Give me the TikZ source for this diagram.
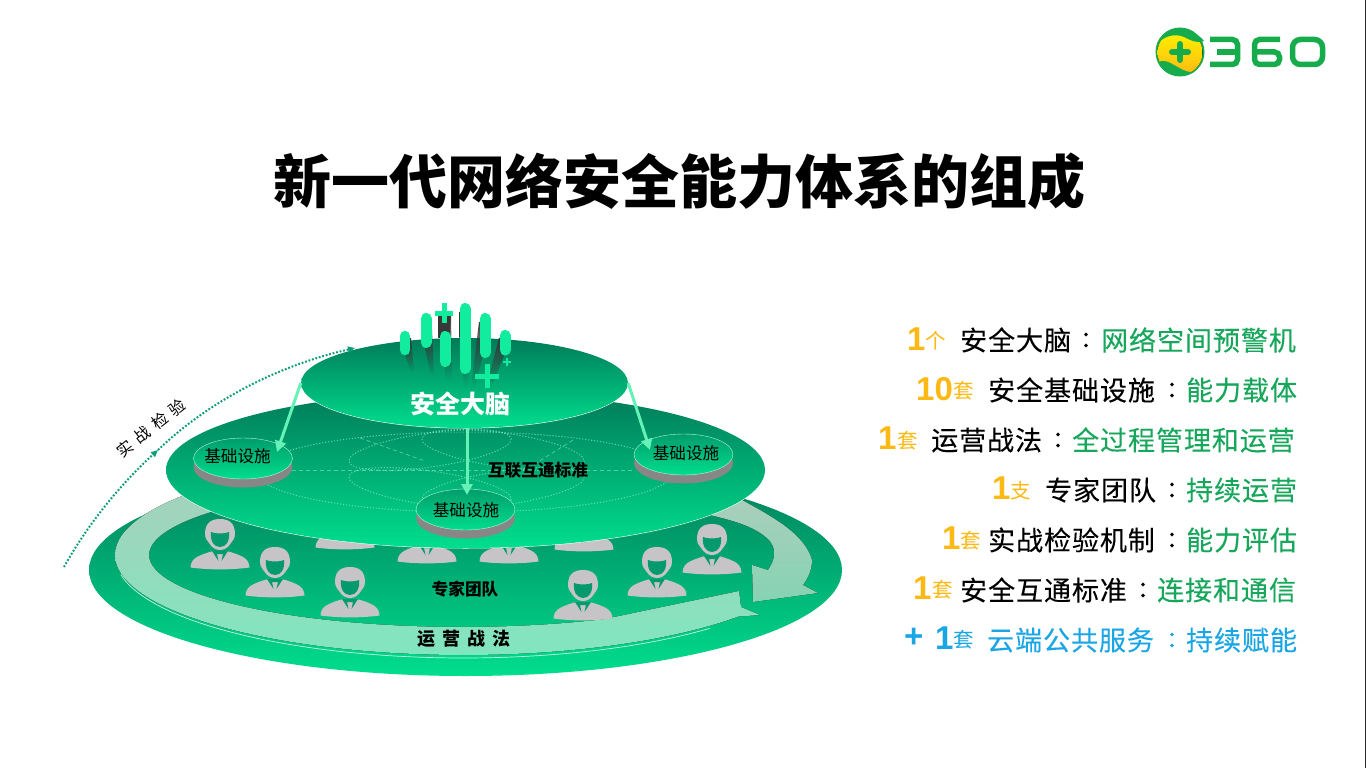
\documentclass[tikz,border=0pt]{standalone}
\usepackage{fontspec}
\usetikzlibrary{shapes.geometric,arrows.meta,calc,fadings}
\setmainfont{Liberation Sans}
\newfontfamily\cjk{Noto Sans CJK SC}
\newfontfamily\cjkls[LetterSpace=3.5,FakeBold=0.15]{Noto Sans CJK SC}
\definecolor{numorange}{HTML}{FDB913}
\definecolor{rowgreen}{HTML}{17A75B}
\definecolor{rowblue}{HTML}{1AA6E4}
\definecolor{discTop}{HTML}{007A58}
\definecolor{discBot}{HTML}{00DE8E}
\definecolor{personc}{HTML}{C6C4C6}
\definecolor{facec}{HTML}{059A6E}
\definecolor{arrowc}{HTML}{66F2B6}
\definecolor{dotc}{HTML}{0A9D78}
\definecolor{barc}{HTML}{12EC9E}
\definecolor{logog}{HTML}{16AC4C}
\definecolor{bandTop}{HTML}{A9CFBC}
\definecolor{bandMid}{HTML}{85D3B2}
\definecolor{bandBot}{HTML}{80E6BF}
\tikzset{
  disc/.style={ellipse,inner sep=0,top color=discTop,bottom color=discBot,draw=none},
  minidisc/.style={ellipse,inner sep=0,minimum width=99pt,minimum height=41pt,top color=#1,bottom color=discBot,draw=white!70!discBot,line width=.4pt},
  minibase/.style={ellipse,inner sep=0,minimum width=99pt,minimum height=41pt,fill=black!47,draw=none},
  link/.style={draw=arrowc,line width=3pt,-{Triangle[length=11pt,width=11pt]}},
  txt/.style={inner sep=0,anchor=west},
  num/.style={txt,font=\fontsize{33}{33}\selectfont\bfseries,text=numorange},
  unitn/.style={txt,font=\cjk\fontsize{20.5}{20.5}\selectfont,text=numorange},
  body/.style={txt,font=\cjkls\fontsize{27}{27}\selectfont,text=#1},
  colon/.style={inner sep=0,anchor=center,font=\cjkls\fontsize{27}{27}\selectfont,text=#1},
  capsule/.style={draw=barc,line cap=round,line width=#1},
  shadowbar/.style={fill=black!78,draw=none,path fading=south},
  discLabel/.style={inner sep=0,font=\cjk\fontsize{16.6}{16.6}\selectfont,text=black},
  boldLabel/.style={inner sep=0,font=\cjk\bfseries\fontsize{16.7}{16.7}\selectfont,text=black},
  ptdot/.style={draw=white!55!discBot,line width=1pt,opacity=.65,dash pattern=on 1.2pt off 1.8pt},
  ptdash/.style={draw=white!55!discBot,line width=.8pt,opacity=.55,dash pattern=on 4pt off 3pt},
  person/.pic={
    \fill[personc] (-29.5,-1.5) .. controls (-29,-10) and (-24,-13) .. (-7,-18) -- (7,-18)
       .. controls (24,-13) and (29,-10) .. (29.5,-1.5) .. controls (12,1) and (-12,1) .. (-29.5,-1.5) -- cycle;
    \fill[personc] (-15,-35) .. controls (-15,-46) and (-9,-50) .. (0,-50) .. controls (9,-50) and (15,-46) .. (15,-35)
       .. controls (15,-30) and (12,-28) .. (11,-26) .. controls (8,-21) and (4,-19) .. (0,-19)
       .. controls (-4,-19) and (-8,-21) .. (-11,-26) .. controls (-12,-28) and (-15,-30) .. (-15,-35) -- cycle;
    \fill[facec] (-9,-37) .. controls (-5,-35) and (5,-35) .. (9,-37) .. controls (10,-28) and (6,-22) .. (0,-22)
       .. controls (-6,-22) and (-10,-28) .. (-9,-37) -- cycle;
    \fill[facec] (-8,-18) -- (-1.5,-8) -- (-3,-15) -- (3,-15) -- (1.5,-8) -- (8,-18) -- cycle;
  },
}
\begin{document}
\begin{tikzpicture}[x=1pt,y=-1pt]
\useasboundingbox (0,0) rectangle (1366,768);
\fill[white] (0,0) rectangle (1366,768);
\draw[black!85,line width=1pt] (1365.5,0) -- (1365.5,768);
% title
\node[inner sep=0,font=\cjk\bfseries\fontsize{58}{58}\selectfont] (title) at (679.5,181) {新一代网络安全能力体系的组成};
% logo
\fill[logog] (1180,52) circle (24.5);
\fill[top color=yellow!90!orange,bottom color=numorange] (1180,52.5) circle (22.5);
\fill[logog] (1157,44) .. controls (1163,30) and (1178,27) .. (1190,31) .. controls (1197,34) and (1202,38) .. (1204,41) .. controls (1197,44) and (1190,40) .. (1184,37) .. controls (1175,33) and (1164,36) .. (1157,44) -- cycle;
\fill[logog] (1158,62) .. controls (1163,76) and (1183,79) .. (1193,72) .. controls (1184,72) and (1180,68) .. (1174,65) .. controls (1168,61) and (1163,60) .. (1158,62) -- cycle;
\draw[logog,line width=6pt,line cap=round] (1172,52) -- (1188,52) (1180,44) -- (1180,60);
\draw[logog,line width=5.5pt,rounded corners=5pt] (1210,39.5) -- (1237.5,39.5) -- (1237.5,64.5) -- (1210,64.5);
\draw[logog,line width=5.5pt] (1217,52) -- (1237,52);
\draw[logog,line width=5.5pt,rounded corners=5pt] (1280,39.5) -- (1254.5,39.5) -- (1254.5,64.5) -- (1279.5,64.5) -- (1279.5,52) -- (1254.5,52);
\draw[logog,line width=5.5pt,rounded corners=8pt] (1292.5,39.5) rectangle (1322.5,64.5);
% bottom disc
\node[disc,minimum width=753pt,minimum height=212pt] (base) at (465.5,570) {};
% operating band, lower arrow
\fill[top color=bandTop,bottom color=bandBot]
  plot[domain=235:90,samples=70] ({463.5+348.5*cos(\x)},{555+100*sin(\x)})
  -- plot[domain=90:38,samples=40] ({463.5+348.5*cos(\x)},{555+100*sin(\x)})
  -- (760,615) -- (741,607) -- (739,591)
  -- plot[domain=63:235,samples=80] ({462+313*cos(\x)},{555+72*sin(\x)}) -- cycle;
% upper-right arrow
\fill[top color=bandTop,bottom color=bandMid] (742,500) .. controls (775,518) and (805,535) .. (812,560)
  .. controls (812,570) and (808,578) .. (803,585) -- (818,593) -- (753,602) -- (752,565) -- (768,570)
  .. controls (775,560) and (778,548) .. (767,538) .. controls (752,525) and (730,520) .. (710,515) -- cycle;
\draw[white!75!discBot,line width=.7pt] plot[domain=45:170,samples=70] ({463.5+348*cos(\x)},{557+101*sin(\x)});
% people
\pic at (220,569) {person};
\pic at (275,597) {person};
\pic at (350,617) {person};
\pic at (345,549) {person};
\pic at (427,563) {person};
\pic at (509,563) {person};
\pic at (584,551) {person};
\pic at (583,620) {person};
\pic at (657,597) {person};
\pic at (712,574) {person};
% middle disc
\node[disc,minimum width=599pt,minimum height=156pt,preaction={draw=white,line width=1pt}] (mid) at (465.5,470) {};
% dotted pattern
\draw[ptdash] (292,470) -- (634,470);
\draw[ptdash] (360,438) -- (425,461);
\draw[ptdash] (573,440) -- (530,467);
\draw[ptdot] (465,472) ellipse (208 and 40);
\draw[ptdot,rotate around={8:(430,450)}] (430,450) ellipse (82 and 17);
\draw[ptdot,rotate around={-8:(503,450)}] (503,450) ellipse (82 and 17);
\draw[ptdot,rotate around={-8:(430,488)}] (430,488) ellipse (82 and 17);
\draw[ptdot,rotate around={8:(503,488)}] (503,488) ellipse (82 and 17);
% disks
\node[minibase] (baseL) at (243,467) {};
\node[minidisc=discTop!65!discBot] (diskL) at (243,458.5) {};
\node[minibase] (baseR) at (683.5,463) {};
\node[minidisc=discTop!65!discBot] (diskR) at (683.5,454.5) {};
\node[minibase] (baseM) at (465.5,518) {};
\node[minidisc=discTop!65!discBot] (diskM) at (465.5,509.5) {};
\node[discLabel] (labL) at (237.5,456) {基础设施};
\node[discLabel] (labR) at (686,453) {基础设施};
\node[discLabel] (labM) at (466,510) {基础设施};
\node[boldLabel] (std) at (538,470) {互联互通标准};
\node[boldLabel] (team) at (465,589) {专家团队};
\node[inner sep=0,font=\cjk\bfseries\fontsize{18}{18}\selectfont,text=black] (ops) at (464,639) {运\hspace{7pt}营\hspace{7pt}战\hspace{7pt}法};
% dark columns rising above the top disc
\fill[black!78] (438,312) -- (450,312) -- (450,345) -- (438,345) -- cycle;
\fill[black!78] (459,312) -- (471,312) -- (471,345) -- (459,345) -- cycle;
% top disc
\node[disc,minimum width=327pt,minimum height=90pt,preaction={draw=white,line width=1pt}] (brain) at (464.5,383) {};
% shadows over disc
\fill[shadowbar] (400,340) -- (411,338) -- (414,372) -- (411,372) -- cycle;
\fill[shadowbar] (421,330) -- (432,330) -- (434,376) -- (431,376) -- cycle;
\fill[shadowbar] (438,315) -- (451,315) -- (452,380) -- (446,380) -- cycle;
\fill[shadowbar] (459,312) -- (471,312) -- (468,388) -- (464,388) -- cycle;
\fill[shadowbar] (479,322) -- (491,322) -- (475,388) -- (471,388) -- cycle;
\fill[shadowbar] (499,338) -- (511,338) -- (491,388) -- (486,388) -- cycle;
% brain capsules
\draw[capsule=10.5pt] (405,336) -- (405,350);
\draw[capsule=11pt] (426,318.5) -- (426,342.5);
\draw[barc,line width=5pt] (444,303) -- (444,323) (435,313) -- (453,313);
\draw[capsule=11pt] (445,336.5) -- (445,361.5);
\draw[capsule=11pt] (465,308.5) -- (465,368.5);
\draw[capsule=11pt] (485,318.5) -- (485,352.5);
\draw[capsule=11pt] (505,335.5) -- (505,350);
\draw[barc,line width=5pt] (487,364) -- (487,388) (475,376) -- (499,376);
\draw[barc,line width=2.4pt] (507,358) -- (507,366) (503,362) -- (511,362);
\node[inner sep=0,text=white,font=\cjk\bfseries\fontsize{25}{25}\selectfont] (brainlab) at (460,404) {安全大脑};
% links
\coordinate (tipL) at (277,452);
\coordinate (tipR) at (650,450);
\coordinate (tipM) at (467,495);
\coordinate (startM) at (467,428);
\draw[link] (brain.west) -- (tipL);
\draw[link] (brain.east) -- (tipR);
\draw[link] (startM) -- (tipM);
% drill arrow
\coordinate (ds) at (64,567);
\coordinate (dm) at (158,450);
\coordinate (de) at (355,348);
\draw[dotc,line width=2pt,dash pattern=on 1.8pt off 1.8pt,-{Triangle[length=7pt,width=6pt]}] (ds) .. controls (90,520) and (125,480) .. (dm);
\draw[dotc,line width=2pt,dash pattern=on 1.8pt off 1.8pt,-{Triangle[length=7pt,width=6pt]}] (dm) .. controls (210,400) and (280,365) .. (de);
\node[inner sep=0,rotate=38,font=\cjk\fontsize{16}{16}\selectfont,text=black] (drill) at (151,428) {实\hspace{6pt}战\hspace{6pt}检\hspace{6pt}验};
% rows
\node[num] (n1) at (907,339) {1};
\node[unitn] (u1) at (925,341) {个};
\node[body=black] (b1) at (960,340) {安全大脑};
\node[colon=black] (c1) at (1086,340) {:};
\node[body=rowgreen] (g1) at (1101,340) {网络空间预警机};
\node[num] (n2) at (916,389) {10};
\node[unitn] (u2) at (953,391) {套};
\node[body=black] (b2) at (988,390) {安全基础设施};
\node[colon=black] (c2) at (1172,390) {:};
\node[body=rowgreen] (g2) at (1186,390) {能力载体};
\node[num] (n3) at (878,438) {1};
\node[unitn] (u3) at (897,441) {套};
\node[body=black] (b3) at (931,440) {运营战法};
\node[colon=black] (c3) at (1058,440) {:};
\node[body=rowgreen] (g3) at (1072,440) {全过程管理和运营};
\node[num] (n4) at (992,488) {1};
\node[unitn] (u4) at (1010,491) {支};
\node[body=black] (b4) at (1045,490) {专家团队};
\node[colon=black] (c4) at (1172,490) {:};
\node[body=rowgreen] (g4) at (1186,490) {持续运营};
\node[num] (n5) at (942,538) {1};
\node[unitn] (u5) at (960,541) {套};
\node[body=black] (b5) at (988,540) {实战检验机制};
\node[colon=black] (c5) at (1172,540) {:};
\node[body=rowgreen] (g5) at (1186,540) {能力评估};
\node[num] (n6) at (913,588) {1};
\node[unitn] (u6) at (932,590) {套};
\node[body=black] (b6) at (960,590) {安全互通标准};
\node[colon=black] (c6) at (1143,590) {:};
\node[body=rowgreen] (g6) at (1157,590) {连接和通信};
\node[num,text=rowblue] (p7) at (904,638) {+};
\node[num,text=rowblue] (n7) at (935,638) {1};
\node[unitn,text=rowblue] (u7) at (953,640) {套};
\node[body=rowblue] (b7) at (987,640) {云端公共服务};
\node[colon=rowblue] (c7) at (1172,640) {:};
\node[body=rowblue] (g7) at (1186,640) {持续赋能};
\end{tikzpicture}
\end{document}
